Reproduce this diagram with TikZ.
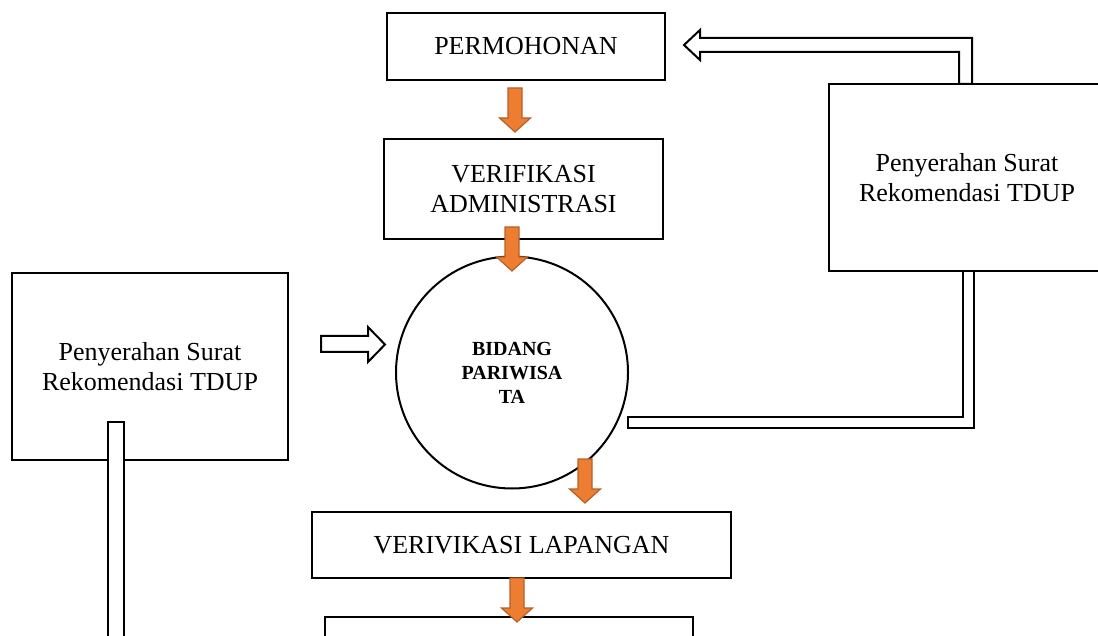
\documentclass[tikz,border=0pt]{standalone}
\usepackage{fontspec}
\setmainfont{Liberation Serif}
\usetikzlibrary{calc}
\definecolor{orangefill}{HTML}{ED7D31}
\definecolor{orangeline}{HTML}{B5602A}
% orange block arrow, pointing down, from #1 (top of shaft) to #2 (tip)
\newcommand{\fatarrow}[2]{%
\path[fatarrow] ($(#1)+(-7,0)$) -- ($(#1)+(7,0)$) -- ($(#2)+(7,-14)$) -- ($(#2)+(15.5,-14)$) -- (#2) -- ($(#2)+(-15.5,-14)$) -- ($(#2)+(-7,-14)$) -- cycle;}

\begin{document}
\begin{tikzpicture}[x=0.5pt, y=-0.5pt,
  box/.style={draw, line width=1pt, align=center, inner sep=0pt, font=\fontsize{13}{15}\selectfont},
  hollow/.style={draw, fill=white, line width=1pt, line join=miter},
  fatarrow/.style={fill=orangefill, draw=orangeline, line width=0.6pt}]
\clip (0,0) rectangle (1098,636);

\node[box, minimum width=139pt, minimum height=33.5pt] (perm) at (526,46.5) {PERMOHONAN};
\node[box, minimum width=139.5pt, minimum height=50pt] (verif) at (523.5,189) {VERIFIKASI\\ADMINISTRASI};
\node[circle, draw, line width=1pt, minimum size=116pt, inner sep=0pt, align=center,
  font=\bfseries\fontsize{10}{12}\selectfont] (bidang) at (512,372.5) {BIDANG\\PARIWISA\\TA};
\node[box, minimum width=209.5pt, minimum height=33pt] (lapangan) at (521.5,545) {VERIVIKASI LAPANGAN};
\node[box, minimum width=184pt, minimum height=40pt, anchor=north west] (next) at (324,616) {};
\node[box, minimum width=138pt, minimum height=93.5pt] (suratL) at (150,366.5) {Penyerahan Surat\\Rekomendasi TDUP};
\node[box, minimum width=138pt, minimum height=93.5pt] (suratR) at (967,177.5) {Penyerahan Surat\\Rekomendasi TDUP};

% hollow arrows
\draw[hollow] (959,84) -- (959,52) -- (700,52) -- (700,60) -- (684,45) -- (700,30) -- (700,38) -- (972,38) -- (972,84) -- cycle;
\draw[hollow] (628,417) -- (963,417) -- (963,271) -- (974,271) -- (974,428) -- (628,428) -- cycle;
\draw[hollow] (321,336) -- (368,336) -- (368,327) -- (385,344.5) -- (368,362) -- (368,352) -- (321,352) -- cycle;
\draw[hollow] (108,660) -- (108,422) -- (124,422) -- (124,660);

% orange arrows
\coordinate (a1s) at (515,88);  \coordinate (a1e) at (515,132);
\coordinate (a2s) at (512,227); \coordinate (a2e) at (512,271);
\coordinate (a3s) at (585,459); \coordinate (a3e) at (585,503);
\coordinate (a4s) at (517,578); \coordinate (a4e) at (517,622);
\fatarrow{a1s}{a1e}
\fatarrow{a2s}{a2e}
\fatarrow{a3s}{a3e}
\fatarrow{a4s}{a4e}
\end{tikzpicture}
\end{document}
